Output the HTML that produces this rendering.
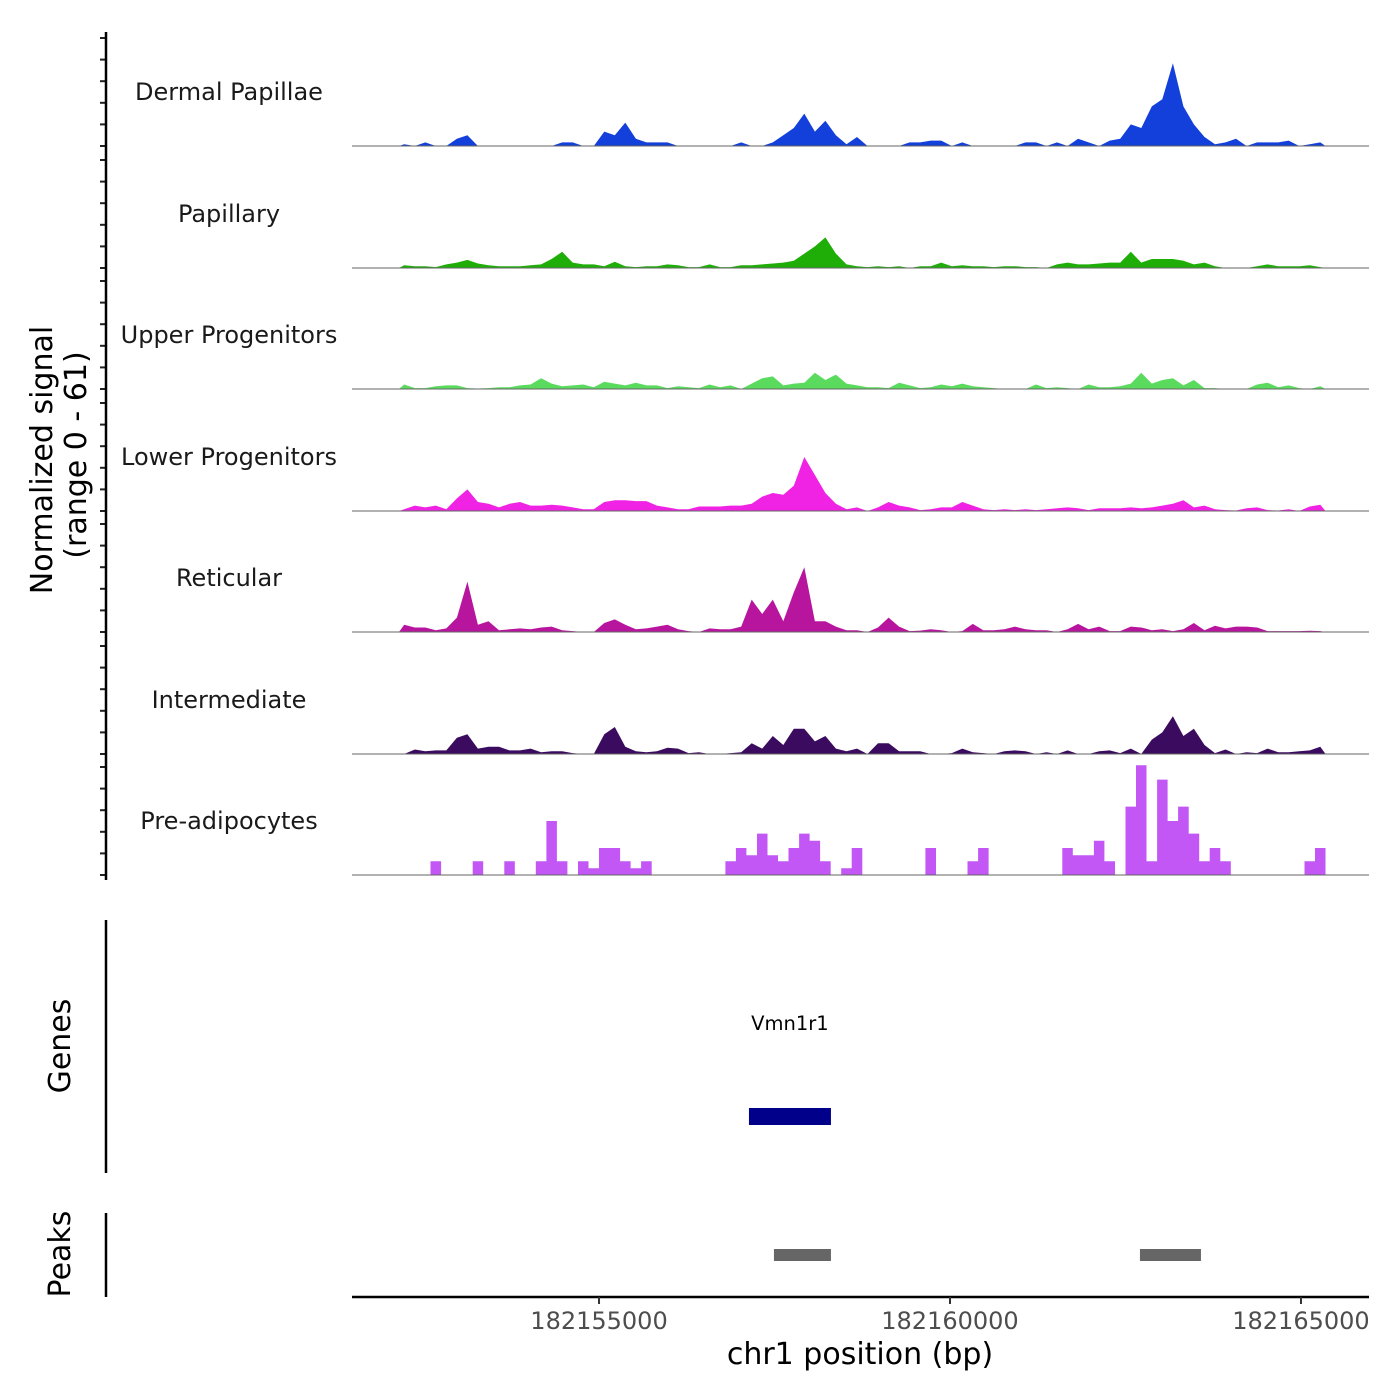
<!DOCTYPE html>
<html><head><meta charset="utf-8"><style>
html,body{margin:0;padding:0;background:#fff;}
svg{display:block;font-family:"DejaVu Sans","Liberation Sans",sans-serif;}
</style></head><body>
<svg id="chart" width="1400" height="1400" viewBox="0 0 1400 1400">
<g id="tracks"></g>
<g id="axes"></g>
</svg>
<script>
// ---- data ----
const binStart = 182152150;
const binSize = 150;
const trackNames = ["Dermal Papillae","Papillary","Upper Progenitors","Lower Progenitors","Reticular","Intermediate","Pre-adipocytes"];
const trackColors = ["#1340DB","#1FAD08","#5ADB5E","#F022E4","#B8159F","#3A0B5E","#C257F5"];
const dermalPapillae = [1,0,2,0,0,4,6,0,0,0,0,0,0,0,0,2,2,0,0,8,6,13,4,2,2,2,0,0,0,0,0,0,2,0,0,2,6,10,18,8,14,6,1,5,0,0,0,0,2,2,3,3,0,2,0,0,0,0,0,2,2,0,2,0,4,2,0,3,4,12,10,22,26,46,22,12,5,1,2,4,0,2,2,2,3,0,1,2];
const papillary = [1.5,1,1,0.5,2,3,4.5,2.5,1.5,1,1,1,1.5,2,5,9,3,2,2,1,3.5,1,0.5,1,1,2,1.5,0.5,0.5,2,0.5,0.5,1.5,1.5,2,2.5,3,4,8,12,17,8,2,1,0.5,1,0.5,1,0,1,1,3,1,1.5,1,1,0.5,1,1,0.5,0.5,0,2,3,2,2,2.5,3,3,9,3,5,5,5,4,2,3,1,0,0,0,1,2,1,1,1,1.5,0.5];
const upperProgenitors = [2.5,0.5,0.5,1.5,2,2,0.5,0.3,0.5,1,1,2,2.5,6,3,1.5,2,2.5,1,4,3,2,3.5,2,2,0.5,1.5,1,0.5,2.5,1,2,0,3,6,7,2,3,3.5,9,5,8,3,2,1,1,0.5,3.5,2,0.5,1,2.5,1.5,3,1.5,1,0.5,0,0,0,2.5,0.5,1,0.5,0,2.5,1,1,1.5,3,9,3,5,6,2,5,0.5,0.5,0,0,0,2.5,3.5,1,2,0.5,0,1.5];
const lowerProgenitors = [1,3,2,3,1,7,12,5,4,2,4,5,3,3,3.5,3,2,1,1,5,6,6,5.5,5.5,3,2,1,1,2.5,2.5,2.5,3,3,4,8,10,9,14,30,20,10,4,1,2,0,2,5,3,2,0.5,1,2,2,5,3,1,0.5,1,0.5,1,0.5,1,1.5,2,1.5,0.5,1.5,1.5,1.5,2,1.5,2,3,4,6,2,3,1,0.5,0.3,1.5,2,0.5,0.3,1,0,2.5,3.5];
const reticular = [4,2.5,2.5,1,2,8,28,4,6,1,1.5,2,1.5,2.5,3,1,0.5,0,0,5,7,4,1.5,2,3,4,1.5,0.5,0,2,1.5,1.5,3,18,10,18,6,22,36,6,6,3,1,1,0,2.5,8,3,0.5,0.8,1.5,1,0,0.5,4.5,1,1,1.5,3,1.5,1,1,0,1.5,4.5,1.5,3,0.5,0.5,3,2.5,1,1.5,0.5,1.5,5,1,3.5,2,3,3,2.5,0.5,0.5,0.5,0.5,0.7,0.5];
const intermediate = [0,2.5,1.5,2,2,9,11,3,4,4,2,2,3,1,1.5,1.5,0.5,0,0,11,15,4,1.5,1,1.5,3.5,3,0.5,1,0,0,0.5,1,6,3,10,5,14,14,7,10,3,1.5,3,0,6,6,1.5,1.5,1.5,0,0,0.5,3,1,0.5,0,1.5,2,1.5,0,1,0,2,0,0,1.5,2,0.5,3,0,8,12,21,10,14,5,0.5,2.5,0,1,0.5,3,1,1,1.5,2,4];
const preAdipocytes = [0,0,0,7.6,0,0,0,7.6,0,0,7.6,0,0,7.6,30,7.6,0,7.6,3.8,15,15,7.6,3.8,7.6,0,0,0,0,0,0,0,7.6,15,11,23,11,7.6,15,23,19,7.6,0,3.8,15,0,0,0,0,0,0,15,0,0,0,7.6,15,0,0,0,0,0,0,0,15,11,11,19,7.6,0,38,61,7.6,53,30,38,23,7.6,15,7.6,0,0,0,0,0,0,0,7.6,15];
const allSeries = [dermalPapillae,papillary,upperProgenitors,lowerProgenitors,reticular,intermediate,preAdipocytes];
const stepMode = [false,false,false,false,false,false,true];
const yTickValues = [0,12,24,36,48,60];
const xTickValues = [182155000,182160000,182165000];
const xTickLabels = ["182155000","182160000","182165000"];
const geneName = "Vmn1r1";
const geneStart = 182157136, geneEnd = 182158304;
const peakStarts = [182157492,182162706];
const peakEnds = [182158304,182163575];

// ---- scales ----
const X0 = 352, X1 = 1369, BP0 = 182151481, BP1 = 182165969;
function xs(bp){ return X0 + (bp - BP0) / (BP1 - BP0) * (X1 - X0); }
const baselines = [146,268,389,511,632,754,875];
const pxPerUnit = 1.8;
function ys(v, t){ return baselines[t] - v * pxPerUnit; }

const NS = "http://www.w3.org/2000/svg";
function mk(tag, attrs, parent){ const e = document.createElementNS(NS, tag); for (const k in attrs) e.setAttribute(k, attrs[k]); parent.appendChild(e); return e; }
const tracks = document.getElementById('tracks');
const axes = document.getElementById('axes');

allSeries.forEach((vals, t) => {
  const g = mk('g', {}, tracks);
  
  
  let pts = [];
  const b = baselines[t];
  if (stepMode[t]) {
    pts.push([xs(binStart), b]);
    vals.forEach((v, i) => {
      const a = xs(binStart + i*binSize), c = xs(binStart + (i+1)*binSize);
      pts.push([a, ys(v,t)]); pts.push([c, ys(v,t)]);
    });
    pts.push([xs(binStart + vals.length*binSize), b]);
  } else {
    pts.push([xs(binStart), b]);
    vals.forEach((v, i) => { pts.push([xs(binStart + (i+0.5)*binSize), ys(v,t)]); });
    pts.push([xs(binStart + vals.length*binSize), b]);
  }
  const area = mk('polygon', {points: pts.map(p => p[0].toFixed(1)+','+p[1].toFixed(1)).join(' '), fill: trackColors[t]}, g);
  
  
  const base = mk('line', {x1: X0, x2: X1, y1: b, y2: b, stroke: '#666', 'stroke-width': 1}, g);
  
  
  const lab = mk('text', {x: 229, y: b - 46, 'text-anchor': 'middle', 'font-size': 24, fill: '#1a1a1a'}, g);
  lab.textContent = trackNames[t];
  
  
  yTickValues.forEach(v => {
    const y = ys(v, t);
    if (y < b - 121) return;
    const tk = mk('line', {x1: 100, x2: 106, y1: y, y2: y, stroke: '#222', 'stroke-width': 2}, g);
    
    
  });
});

// left axes
[[32,880],[920,1173],[1213,1297]].forEach(r => {
  const l = mk('line', {x1: 106, x2: 106, y1: r[0], y2: r[1], stroke: '#000', 'stroke-width': 2.5}, axes);
  
  
});
function vtext(txt, x, y, size, name){
  const e = mk('text', {x: x, y: y, 'text-anchor': 'middle', 'font-size': size, fill: '#000', transform: 'rotate(-90 '+x+' '+y+')'}, axes);
  e.textContent = txt;
  
  
}
vtext('Normalized signal', 52, 460, 30, 'y-axis-title');
vtext('(range 0 - 61)', 86, 455, 30, 'y-axis-range');
vtext('Genes', 70, 1046, 30, 'genes-axis-title');
vtext('Peaks', 70, 1254, 30, 'peaks-axis-title');

// genes
const gl = mk('text', {x: (xs(geneStart)+xs(geneEnd))/2, y: 1030, 'text-anchor': 'middle', 'font-size': 19.5, fill: '#000'}, axes);
gl.textContent = geneName;


const gb = mk('rect', {x: xs(geneStart), y: 1108, width: xs(geneEnd)-xs(geneStart), height: 17, fill: '#00008B'}, axes);



// peaks
peakStarts.forEach((s, i) => {
  const r = mk('rect', {x: xs(s), y: 1249, width: xs(peakEnds[i])-xs(s), height: 12, fill: '#666'}, axes);
  
  
});

// x axis
const xa = mk('line', {x1: X0, x2: X1, y1: 1297, y2: 1297, stroke: '#000', 'stroke-width': 2.5}, axes);


xTickValues.forEach((v, i) => {
  const x = xs(v);
  const tk = mk('line', {x1: x, x2: x, y1: 1297, y2: 1304, stroke: '#333', 'stroke-width': 2}, axes);
  
  
  const tl = mk('text', {x: x, y: 1329, 'text-anchor': 'middle', 'font-size': 24, fill: '#4d4d4d'}, axes);
  tl.textContent = xTickLabels[i];
  
  
});
const xt = mk('text', {x: 860, y: 1364, 'text-anchor': 'middle', 'font-size': 30, fill: '#000'}, axes);
xt.textContent = 'chr1 position (bp)';


</script>
</body></html>
